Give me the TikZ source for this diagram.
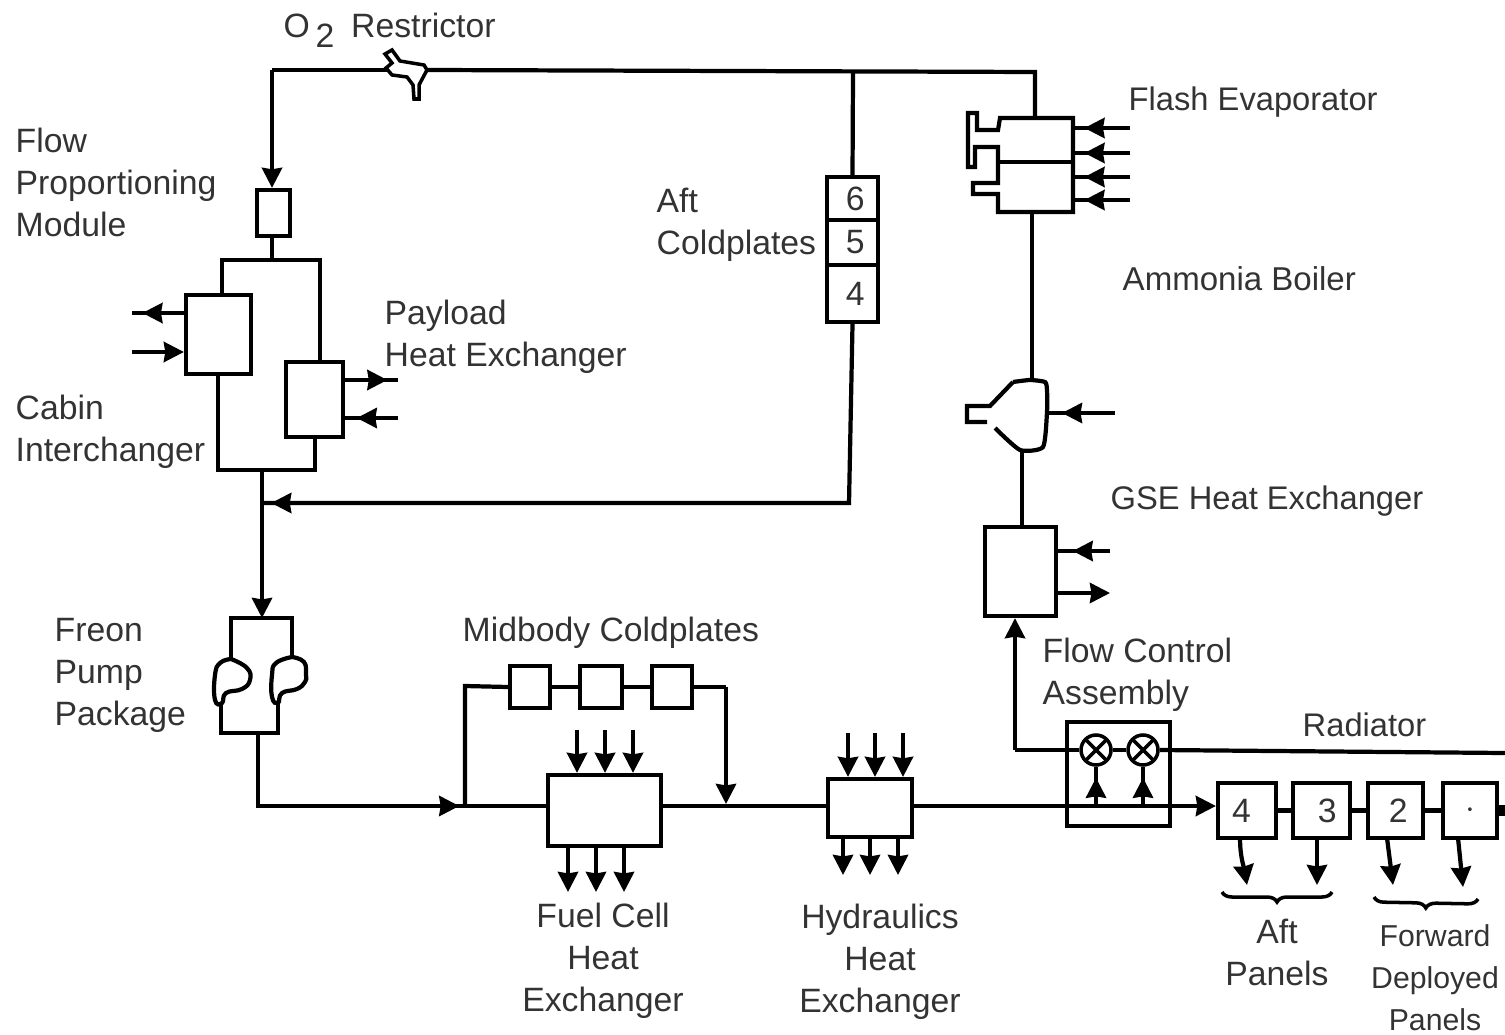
\documentclass[tikz,border=0pt]{standalone}
\usepackage{fontspec}
\setmainfont{Liberation Sans}
\usepackage{xcolor}
\usetikzlibrary{arrows.meta, positioning, calc, decorations.markings, decorations.pathreplacing}
\tikzset{
    pipe/.style={draw, line width=1.2pt},
    box/.style={rectangle, draw, line width=1.2pt, inner sep=0pt, fill=white, text=black!80, font=\fontsize{9.6}{11.95}\selectfont},
    label/.style={inner sep=0pt, text=black!80, font=\fontsize{9.6}{11.95}\selectfont},
    arrow/.style={pipe, -{Stealth[length=0.2cm, width=0.2cm, inset=0.4pt]}},
    midarrow/.style={pipe, postaction={decorate}, decoration={markings, mark=at position #1 with {\arrow{Stealth[length=0.2cm, width=0.2cm, inset=0.4pt]}}}},
    valve/.style={circle, draw, line width=1pt, fill=white, minimum size=0.30cm, inner sep=0pt,
        path picture={\draw[line width=1pt] (path picture bounding box.north west) -- (path picture bounding box.south east)
            (path picture bounding box.north east) -- (path picture bounding box.south west);}}
}
\newcommand{\sizedbox}[6]{\node[box, minimum width=#3 cm, minimum height=#4 cm] (#1) at #2 {#5};}
\begin{document}
\begin{tikzpicture}[y=-1cm]
    \useasboundingbox (0,0) rectangle (15.05,10.34);
    % labels
    \node[label, anchor=west] (restrictorlabel) at (2.83,0.30) {O\,\raisebox{-0.55ex}{2}\enspace Restrictor};
    \node[label, anchor=west, align=left] (fpmlabel) at (0.15,1.82) {Flow\\Proportioning\\Module};
    \node[label, anchor=west, align=left] (aftcoldlabel) at (6.56,2.25) {Aft\\Coldplates};
    \node[label, anchor=west, align=left] (payloadlabel) at (3.84,3.37) {Payload\\Heat Exchanger};
    \node[label, anchor=west, align=left] (cabinlabel) at (0.15,4.32) {Cabin\\Interchanger};
    \node[label, anchor=west, font=\fontsize{9.3}{11.95}\selectfont] (flashlabel) at (11.28,1.02) {Flash Evaporator};
    \node[label, anchor=west, font=\fontsize{9.4}{11.95}\selectfont] (boilerlabel) at (11.22,2.79) {Ammonia Boiler};
    \node[label, anchor=west, font=\fontsize{9.3}{11.95}\selectfont] (gselabel) at (11.10,5.01) {GSE Heat Exchanger};
    \node[label, anchor=west, align=left] (freonlabel) at (0.54,6.75) {Freon\\Pump\\Package};
    \node[label, anchor=west] (midbodylabel) at (4.62,6.33) {Midbody Coldplates};
    \node[label, anchor=west, align=left] (fcalabel) at (10.42,6.75) {Flow Control\\Assembly};
    \node[label, anchor=west, font=\fontsize{9.3}{11.95}\selectfont] (radiatorlabel) at (13.02,7.25) {Radiator};
    \node[label, align=center] (fuellabel) at (6.03,9.61) {Fuel Cell\\Heat\\Exchanger};
    \node[label, align=center] (hydrolabel) at (8.80,9.62) {Hydraulics\\Heat\\Exchanger};
    \node[label, align=center] (aftlabel) at (12.77,9.52) {Aft\\Panels};
    \node[label, align=center, font=\fontsize{8.6}{11.95}\selectfont] (fwdlabel) at (14.35,9.78) {Forward\\Deployed\\Panels};

    % boxes
    \sizedbox{fpm}{(2.735,2.13)}{0.33}{0.46}{}{}
    \sizedbox{cabin}{(2.185,3.345)}{0.65}{0.79}{}{}
    \sizedbox{payload}{(3.145,3.995)}{0.57}{0.75}{}{}
    \sizedbox{cellsix}{(8.525,1.985)}{0.51}{0.43}{\,6}{}
    \sizedbox{cellfive}{(8.525,2.425)}{0.51}{0.45}{\,5}{}
    \sizedbox{cellfour}{(8.525,2.935)}{0.51}{0.57}{\,4}{}
    \sizedbox{gse}{(10.205,5.715)}{0.71}{0.89}{}{}
    \sizedbox{fcbox}{(11.185,7.74)}{1.03}{1.04}{}{}
    \sizedbox{coldone}{(5.30,6.87)}{0.40}{0.42}{}{}
    \sizedbox{coldtwo}{(6.01,6.87)}{0.42}{0.42}{}{}
    \sizedbox{coldthree}{(6.72,6.87)}{0.40}{0.42}{}{}
    \sizedbox{fuelcell}{(6.045,8.105)}{1.13}{0.71}{}{}
    \sizedbox{hydro}{(8.70,8.08)}{0.84}{0.58}{}{}
    \sizedbox{radfour}{(12.47,8.105)}{0.58}{0.55}{4\,\,}{}
    \sizedbox{radthree}{(13.215,8.105)}{0.57}{0.55}{\,\,3}{}
    \sizedbox{radtwo}{(13.955,8.105)}{0.55}{0.55}{\,2}{}
    \sizedbox{radone}{(14.70,8.105)}{0.54}{0.55}{$\cdot$}{}

    % flash evaporator and ammonia boiler
    \draw[pipe] (10.0,1.18) -- (10.73,1.18) -- (10.73,2.12) -- (9.98,2.12) -- (9.98,1.94) -- (9.73,1.94) -- (9.73,1.83)
        -- (9.98,1.83) -- (9.98,1.47) -- (9.75,1.47) -- (9.75,1.67) -- (9.68,1.67) -- (9.68,1.13) -- (9.77,1.13) -- (9.77,1.30) -- (9.98,1.30) -- cycle;
    \coordinate (evaptop) at (10.35,1.18);
    \coordinate (evapbottom) at (10.32,2.12);
    \coordinate (dividerleft) at (9.98,1.62);
    \coordinate (dividerright) at (10.73,1.62);
    \draw[pipe] (dividerleft) -- (dividerright);
    \draw[pipe] plot[smooth, tension=0.35] coordinates {(10.13,3.82) (10.30,3.80) (10.45,3.82) (10.47,3.90) (10.47,4.12) (10.43,4.47) (10.20,4.50) (9.95,4.28)};
    \draw[pipe] (9.87,4.22) -- (9.67,4.22) -- (9.67,4.06) -- (9.90,4.06) -- (10.13,3.82);
    \coordinate (boilertop) at (10.30,3.82);
    \coordinate (boilerbottom) at (10.22,4.50);
    \coordinate (boilerright) at (10.47,4.13);

    % freon pump package
    \draw[pipe] (2.31,6.60) -- (2.31,6.18) -- (2.92,6.18) -- (2.92,6.57);
    \draw[pipe] plot[smooth, tension=0.8] coordinates {(2.31,6.59) (2.47,6.68) (2.50,6.80) (2.42,6.89) (2.26,6.93) (2.22,7.03) (2.15,7.00) (2.15,6.75) (2.20,6.63) (2.31,6.59)};
    \draw[pipe] plot[smooth, tension=0.8] coordinates {(2.92,6.57) (3.04,6.62) (3.06,6.75) (3.05,6.82) (2.97,6.89) (2.82,6.93) (2.78,7.03) (2.72,6.97) (2.72,6.75) (2.76,6.63) (2.92,6.57)};
    \draw[pipe] (2.21,7.03) -- (2.21,7.33) -- (2.78,7.33) -- (2.78,7.03);
    \coordinate (pumptop) at (2.62,6.18);
    \coordinate (pumpbottom) at (2.58,7.33);

    % o2 restrictor
    \draw[line width=1pt, fill=white] (3.85,0.54) -- (3.92,0.50) -- (4.00,0.61) -- (4.24,0.65) -- (4.27,0.70) -- (4.19,0.85) -- (4.19,0.99) -- (4.14,0.99) -- (4.13,0.85) -- (4.07,0.77) -- (3.92,0.75) -- (3.86,0.68) -- (3.92,0.63) -- cycle;
    \coordinate (restrictorleft) at (3.87,0.70);
    \coordinate (restrictorright) at (4.27,0.70);

    % upper loop
    \coordinate (loopcorner) at (2.72,0.70);
    \coordinate (teetop) at (8.53,0.72);
    \coordinate (evapcorner) at (10.35,0.72);
    \draw[pipe] (restrictorleft) -- (loopcorner);
    \draw[arrow] (loopcorner) -- (loopcorner |- fpm.north);
    \draw[pipe] (restrictorright) -- (evapcorner) -- (evaptop);
    \draw[pipe] (teetop) -- (cellsix.north);
    \draw[pipe] (evapbottom) -- (evapbottom |- boilertop);
    \draw[pipe] (boilerbottom) -- (boilerbottom |- gse.north);

    % cabin and payload branches
    \coordinate (splittop) at (2.72,2.60);
    \coordinate (splitleft) at (2.22,2.60);
    \coordinate (splitright) at (3.20,2.60);
    \coordinate (mergeleft) at (2.18,4.70);
    \coordinate (mergeright) at (3.15,4.70);
    \coordinate (mergemid) at (2.62,4.70);
    \coordinate (returntee) at (2.62,5.03);
    \coordinate (returncorner) at (8.49,5.03);
    \draw[pipe] (splittop |- fpm.south) -- (splittop);
    \draw[pipe] (splitleft |- cabin.north) -- (splitleft) -- (splitright) -- (splitright |- payload.north);
    \draw[pipe] (mergeleft |- cabin.south) -- (mergeleft) -- (mergeright) -- (mergeright |- payload.south);
    \draw[arrow] (mergemid) -- (pumptop);
    \draw[midarrow=0.988] (cellfour.south) -- (returncorner) -- (returntee);

    % side arrows
    \coordinate (cabinoutend) at (1.32,3.13);
    \coordinate (cabininend) at (1.32,3.52);
    \coordinate (payoutend) at (3.98,3.80);
    \coordinate (payinend) at (3.98,4.18);
    \draw[midarrow=0.80] (cabin.west |- cabinoutend) -- (cabinoutend);
    \draw[arrow] (cabininend) -- (cabin.west |- cabininend);
    \draw[midarrow=0.80] (payload.east |- payoutend) -- (payoutend);
    \draw[midarrow=0.78] (payinend) -- (payload.east |- payinend);
    \foreach \name/\ypos in {a/1.28, b/1.53, c/1.77, d/2.00} {
        \coordinate (evapin\name) at (11.30,\ypos);
        \draw[midarrow=0.80] (evapin\name) -- (10.73,\ypos);
    }
    \coordinate (boilerinend) at (11.15,4.13);
    \draw[midarrow=0.78] (boilerinend) -- (boilerright);
    \coordinate (gseinend) at (11.10,5.51);
    \coordinate (gseoutend) at (11.10,5.93);
    \draw[midarrow=0.72] (gseinend) -- (gse.east |- gseinend);
    \draw[arrow] (gse.east |- gseoutend) -- (gseoutend);

    % main line along the bottom
    \coordinate (maincorner) at (2.58,8.06);
    \coordinate (bypassstart) at (4.65,8.06);
    \coordinate (bypasscorner) at (4.65,6.86);
    \coordinate (bypassend) at (7.26,6.87);
    \coordinate (bypassjoin) at (7.26,8.04);
    \coordinate (linetee) at (0,8.06);
    \draw[midarrow=0.76] (pumpbottom) -- (maincorner) -- (fuelcell.west |- linetee);
    \draw[pipe] (bypassstart) -- (bypasscorner) -- (coldone.west);
    \draw[pipe] (coldone.east) -- (coldtwo.west);
    \draw[pipe] (coldtwo.east) -- (coldthree.west);
    \draw[pipe] (coldthree.east) -- (bypassend);
    \draw[arrow] (bypassend) -- (bypassjoin);
    \draw[pipe] (fuelcell.east |- linetee) -- (hydro.west |- linetee);
    \coordinate (flowturn) at (10.15,7.50);
    \coordinate (radiatorend) at (15.05,7.53);
    \node[valve] (valvea) at (10.96,7.50) {};
    \node[valve] (valveb) at (11.43,7.50) {};
    \draw[arrow] (flowturn) -- (flowturn |- gse.south);
    \draw[pipe] (flowturn) -- (valvea.west);
    \draw[pipe] (valvea.east) -- (valveb.west);
    \draw[pipe] (valveb.east) -- (radiatorend);
    \draw[arrow] (hydro.east |- linetee) -- (radfour.west |- linetee);
    \draw[midarrow=0.72] (valvea |- linetee) -- (valvea.south);
    \draw[midarrow=0.72] (valveb |- linetee) -- (valveb.south);
    \draw[pipe] (radfour.east) -- (radthree.west);
    \draw[pipe] (radthree.east) -- (radtwo.west);
    \draw[pipe] (radtwo.east) -- (radone.west);
    \coordinate (outletend) at (15.05,8.105);
    \draw[line width=3pt] (radone.east) -- (outletend);

    % heat loads, fuel cell and hydraulics
    \foreach \xpos [count=\i] in {5.77,6.05,6.33} {
        \coordinate (fuelin\i) at (\xpos,7.30);
        \draw[arrow] (fuelin\i) -- (fuelin\i |- fuelcell.north);
    }
    \foreach \xpos [count=\i] in {5.68,5.96,6.24} {
        \coordinate (fuelout\i) at (\xpos,8.92);
        \draw[arrow] (fuelout\i |- fuelcell.south) -- (fuelout\i);
    }
    \foreach \xpos [count=\i] in {8.48,8.75,9.03} {
        \coordinate (hydroin\i) at (\xpos,7.33);
        \draw[arrow] (hydroin\i) -- (hydroin\i |- hydro.north);
    }
    \foreach \xpos [count=\i] in {8.43,8.70,8.98} {
        \coordinate (hydroout\i) at (\xpos,8.75);
        \draw[arrow] (hydroout\i |- hydro.south) -- (hydroout\i);
    }

    % panel outlets and braces
    \coordinate (aftleft) at (12.47,8.85);
    \coordinate (aftright) at (13.17,8.85);
    \coordinate (fwdleft) at (13.93,8.85);
    \coordinate (fwdright) at (14.63,8.87);
    \draw[arrow] (12.40,8.38) to[out=-90, in=100] (aftleft);
    \draw[arrow] (aftright |- radthree.south) -- (aftright);
    \draw[arrow] (13.87,8.38) -- (fwdleft);
    \draw[arrow] (14.58,8.38) -- (fwdright);
    \coordinate (bracea) at (12.22,8.92);
    \coordinate (braceb) at (13.32,8.92);
    \coordinate (bracec) at (13.74,8.97);
    \coordinate (braced) at (14.78,8.99);
    \draw[line width=1pt, decorate, decoration={brace, mirror, amplitude=0.10cm}] (bracea) -- (braceb);
    \draw[line width=1pt, decorate, decoration={brace, mirror, amplitude=0.10cm}] (bracec) -- (braced);
\end{tikzpicture}
\end{document}
